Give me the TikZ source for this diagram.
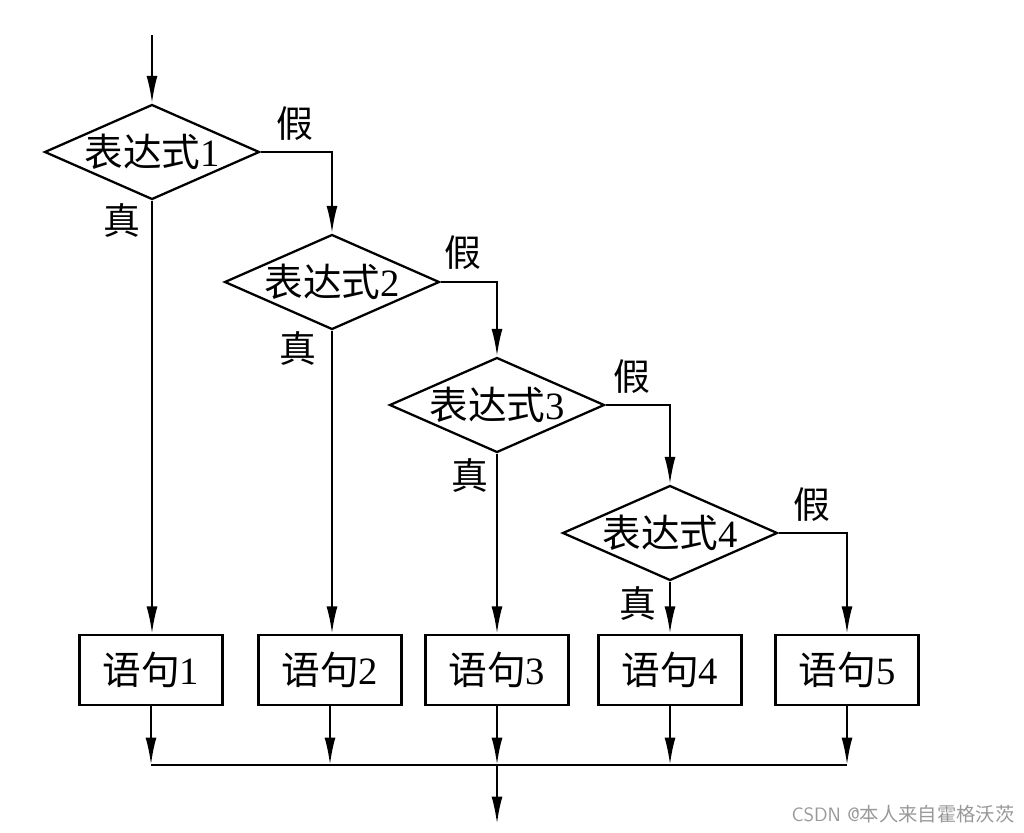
\documentclass[tikz,border=0pt]{standalone}
\usepackage{fontspec}
\setmainfont{Liberation Serif}
\newfontfamily\cjk{Noto Sans CJK SC}
\usetikzlibrary{arrows.meta,shapes.geometric}

\tikzset{
    flow/.style={line width=1.3pt, -{Latex[length=0.55cm, width=0.22cm]}},
    decision/.style={draw, line width=1.3pt, diamond, inner sep=0pt, minimum width=4.3cm, minimum height=1.9cm},
    stmt/.style={draw, line width=1.3pt, rectangle, minimum width=2.86cm, minimum height=1.4cm, font=\fontsize{22}{26}\selectfont},
    tag/.style={font=\fontsize{21}{25}\selectfont\cjk}
}

\begin{document}
\begin{tikzpicture}[x=0.02cm, y=-0.02cm]
    \useasboundingbox (0,0) rectangle (1024,832);

    % Decisions
    \node [decision, label={[font=\fontsize{22}{26}\selectfont]center:{\cjk 表达式}1}] (d1) at (152,152) {};
    \node [decision, label={[font=\fontsize{22}{26}\selectfont]center:{\cjk 表达式}2}] (d2) at (332,282) {};
    \node [decision, label={[font=\fontsize{22}{26}\selectfont]center:{\cjk 表达式}3}] (d3) at (497,405) {};
    \node [decision, label={[font=\fontsize{22}{26}\selectfont]center:{\cjk 表达式}4}] (d4) at (670,533) {};

    % Statements
    \node [stmt] (s1) at (151,670) {{\cjk 语句}1};
    \node [stmt] (s2) at (330,670) {{\cjk 语句}2};
    \node [stmt] (s3) at (497,670) {{\cjk 语句}3};
    \node [stmt] (s4) at (670,670) {{\cjk 语句}4};
    \node [stmt] (s5) at (847,670) {{\cjk 语句}5};

    % True / false labels
    \node [tag] (f1) at (295,124) {假};
    \node [tag] (f2) at (463,253) {假};
    \node [tag] (f3) at (632,377) {假};
    \node [tag] (f4) at (812,505) {假};
    \node [tag] (t1) at (122,220) {真};
    \node [tag] (t2) at (298,348) {真};
    \node [tag] (t3) at (470,475) {真};
    \node [tag] (t4) at (638,603) {真};

    % Entry and exit
    \coordinate (in) at (152,35);
    \coordinate (join) at (497,765);
    \coordinate (out) at (497,824);

    % Connectors
    \draw [flow] (in) -- (d1.north);
    \draw [flow] (d1.east) -| (d2.north);
    \draw [flow] (d2.east) -| (d3.north);
    \draw [flow] (d3.east) -| (d4.north);
    \draw [flow] (d4.east) -| (s5.north);
    \draw [flow] (d1.south) -- (d1.south |- s1.north);
    \draw [flow] (d2.south) -- (d2.south |- s2.north);
    \draw [flow] (d3.south) -- (d3.south |- s3.north);
    \draw [flow] (d4.south) -- (d4.south |- s4.north);

    \draw [flow] (s1.south) -- (s1.south |- join);
    \draw [flow] (s2.south) -- (s2.south |- join);
    \draw [flow] (s3.south) -- (join);
    \draw [flow] (s4.south) -- (s4.south |- join);
    \draw [flow] (s5.south) -- (s5.south |- join);
    \draw [line width=1.3pt] (s1.south |- join) -- (s5.south |- join);
    \draw [flow] (join) -- (out);

    \node [text=black!40, font=\fontsize{11}{13}\selectfont\sffamily] (mark) at (903,814) {CSDN @{\cjk 本人来自霍格沃茨}};
\end{tikzpicture}
\end{document}
